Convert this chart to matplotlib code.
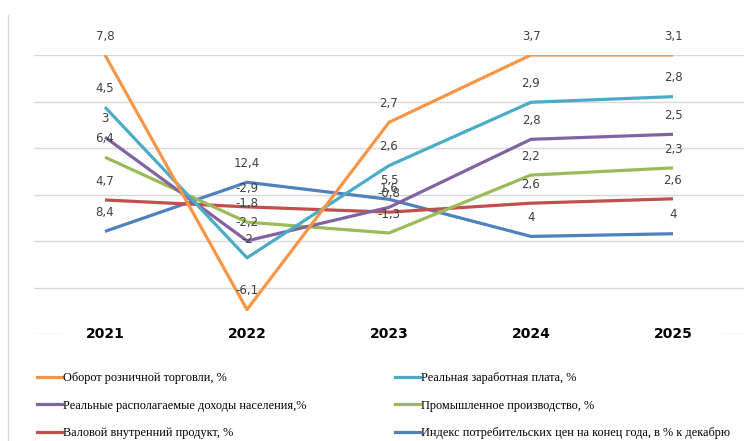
import matplotlib.pyplot as plt
import numpy as np
from matplotlib.lines import Line2D

years = ['2021', '2022', '2023', '2024', '2025']

# raw values shown as data labels (stacking order: bottom -> top)
cpi = [8.4, 12.4, 5.5, 4, 4]
gdp = [4.7, -2.9, -0.8, 2.6, 2.6]
industry = [6.4, -1.8, -1.3, 2.2, 2.3]
income = [3, -2.2, 1.6, 2.8, 2.5]
wage = [4.5, -2, 2.6, 2.9, 2.8]
retail = [7.8, -6.1, 2.7, 3.7, 3.1]

names = ['Индекс потребительских цен на конец года, в % к декабрю',
         'Валовой внутренний продукт, %',
         'Промышленное производство, %',
         'Реальные располагаемые доходы населения,%',
         'Реальная заработная плата, %',
         'Оборот розничной торговли, %']
colors = ['#4F81BD', '#C0504D', '#9BBB59', '#8064A2', '#4BACC6', '#F79646']

series = [cpi, gdp, industry, income, wage, retail]

fig = plt.figure(figsize=(7.44, 4.41), dpi=100)
ax = fig.add_axes([34/744, 107/441, 710/744, 279/441])

# 100% stacked line, as excel does it (normalised by sum of absolute values)
data = np.array(series, dtype=float)
total = np.abs(data).sum(axis=0)
cum = np.cumsum(data, axis=0) / total * 100

x = np.arange(len(years))
for g in [0, 20, 40, 60, 80, 100]:
    ax.axhline(g, color='#d9d9d9', lw=1, zorder=0)
ax.axhline(-20, xmin=0, xmax=0.04, color='#d9d9d9', lw=1, zorder=0)
ax.axhline(-20, xmin=0.968, xmax=1, color='#d9d9d9', lw=1, zorder=0)

lab_font = ['Liberation Sans Narrow', 'DejaVu Sans']
for i in range(len(series)):
    ax.plot(x, cum[i], color=colors[i], lw=2.3, solid_capstyle='butt', zorder=2)
    for j in range(len(years)):
        txt = f"{series[i][j]:g}".replace('.', ',')
        ax.annotate(txt, (x[j], cum[i][j]), xytext=(0, 13.5), textcoords='offset points',
                    ha='center', va='center', fontsize=8.5, color='#404040',
                    family=lab_font, zorder=3)

for j in range(len(years)):
    ax.text(x[j], -20, years[j], ha='center', va='center', fontsize=10,
            fontweight='bold', family=lab_font, color='#000000')

ax.set_xlim(-0.5, len(years) - 0.5)
ax.set_ylim(-20, 100)
ax.axis('off')

# thin frame line on the left
fig.add_artist(Line2D([8/744, 8/744], [0, 1 - 15/441], color='#d9d9d9', lw=1))

order = [5, 3, 1, 4, 2, 0]
handles = [Line2D([], [], color=colors[k], lw=2.3) for k in order]
labels = [names[k] for k in order]
fig.legend(handles, labels, ncol=2, loc='upper left', bbox_to_anchor=(37/744, 1 - 372/441),
           frameon=False, prop={'family': 'Liberation Serif', 'size': 8.8},
           handlelength=2.05, handletextpad=0.1, columnspacing=7.2, labelspacing=1.28,
           borderaxespad=0, borderpad=0)

fig.savefig('out.png', dpi=100)
